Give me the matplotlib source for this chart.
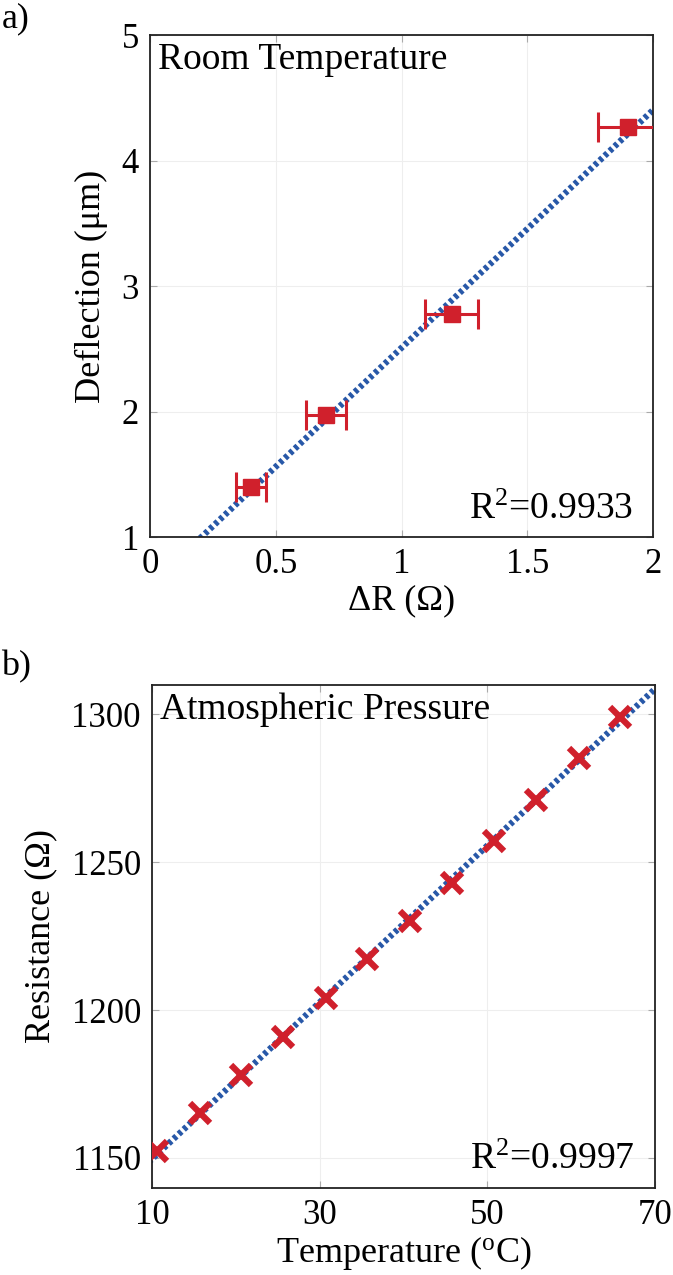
import numpy as np
import matplotlib
matplotlib.use("Agg")
import matplotlib.pyplot as plt

plt.rcParams["font.family"] = ["Liberation Serif", "DejaVu Serif"]
plt.rcParams["mathtext.fontset"] = "custom"
plt.rcParams["mathtext.rm"] = "Liberation Serif"
plt.rcParams["mathtext.it"] = "Liberation Serif:italic"

# panel a: deflection vs resistance change (room temperature)
dR = [0.40, 0.70, 1.20, 1.90]
dR_err = [0.06, 0.08, 0.105, 0.12]
deflection = [1.40, 1.97, 2.775, 4.27]
r2_a = "0.9933"

# panel b: resistance vs temperature (atmospheric pressure)
temp = [10.6, 15.7, 20.6, 25.6, 30.7, 35.7, 40.8, 45.8, 50.8, 55.8, 60.9, 65.8]
resistance = [1152.2, 1165.2, 1178.1, 1191.0, 1204.0, 1217.2,
              1230.2, 1243.1, 1257.0, 1270.9, 1285.1, 1299.2]
r2_b = "0.9997"

red = "#d0202c"
blue = "#2858a8"

fig = plt.figure(figsize=(6.73, 12.75), dpi=100)
ax1 = fig.add_axes([0.2229, 0.5788, 0.7474, 0.3934])
ax2 = fig.add_axes([0.2259, 0.0686, 0.7474, 0.3944])


def style(ax):
    ax.grid(True, color="#eeeeee", lw=0.8)
    ax.set_axisbelow(True)
    ax.tick_params(direction="in", length=5, color="#aaaaaa", top=True, right=True,
                   labelsize=25, pad=8)
    for s in ax.spines.values():
        s.set_linewidth(1.3)
        s.set_color("#222222")


# top panel
k, b = np.polyfit(dR, deflection, 1)
xs = np.array([0.0, 2.1])
ax1.plot(xs, k * xs + b, lw=4.5, color=blue, dashes=(0.6, 0.5), zorder=2)
ax1.errorbar(dR, deflection, xerr=dR_err, fmt="s", ms=11, color=red, ecolor=red,
             elinewidth=2.2, capsize=11, capthick=2.2, zorder=3)
ax1.set_xlim(0, 2)
ax1.set_ylim(1, 5)
ax1.set_xticks([0, 0.5, 1, 1.5, 2])
ax1.set_xticklabels(["0", "0.5", "1", "1.5", "2"])
ax1.set_yticks([1, 2, 3, 4, 5])
style(ax1)
ax1.set_xlabel("ΔR (Ω)", fontsize=26, labelpad=2)
ax1.set_ylabel("Deflection (μm)", fontsize=26)
ax1.yaxis.set_label_coords(-0.0835, 0.5)
ax1.text(0.015, 0.985, "Room Temperature", transform=ax1.transAxes, fontsize=27,
         ha="left", va="top")
ax1.text(0.96, 0.02, "R$^2$=" + r2_a, transform=ax1.transAxes, fontsize=27,
         ha="right", va="bottom")

# bottom panel
k2, b2 = np.polyfit(temp, resistance, 1)
xs2 = np.array([0.0, 75.0])
ax2.plot(xs2, k2 * xs2 + b2, lw=4.5, color=blue, dashes=(0.6, 0.5), zorder=2)
ax2.plot(temp, resistance, ls="none", marker="x", ms=15, mew=4.5, color=red, zorder=3)
ax2.set_xlim(10, 70)
ax2.set_ylim(1140, 1310)
ax2.set_xticks([10, 30, 50, 70])
ax2.set_yticks([1150, 1200, 1250, 1300])
style(ax2)
ax2.set_xlabel("Temperature ($^{\\rm o}$C)", fontsize=26, labelpad=2)
ax2.set_ylabel("Resistance (Ω)", fontsize=26)
ax2.yaxis.set_label_coords(-0.189, 0.5)
ax2.text(0.015, 0.985, "Atmospheric Pressure", transform=ax2.transAxes, fontsize=27,
         ha="left", va="top")
ax2.text(0.96, 0.02, "R$^2$=" + r2_b, transform=ax2.transAxes, fontsize=27,
         ha="right", va="bottom")

fig.text(0.002, 0.998, "a)", fontsize=26, ha="left", va="top")
fig.text(0.002, 0.49, "b)", fontsize=26, ha="left", va="top")

fig.savefig("out.png", dpi=100)
